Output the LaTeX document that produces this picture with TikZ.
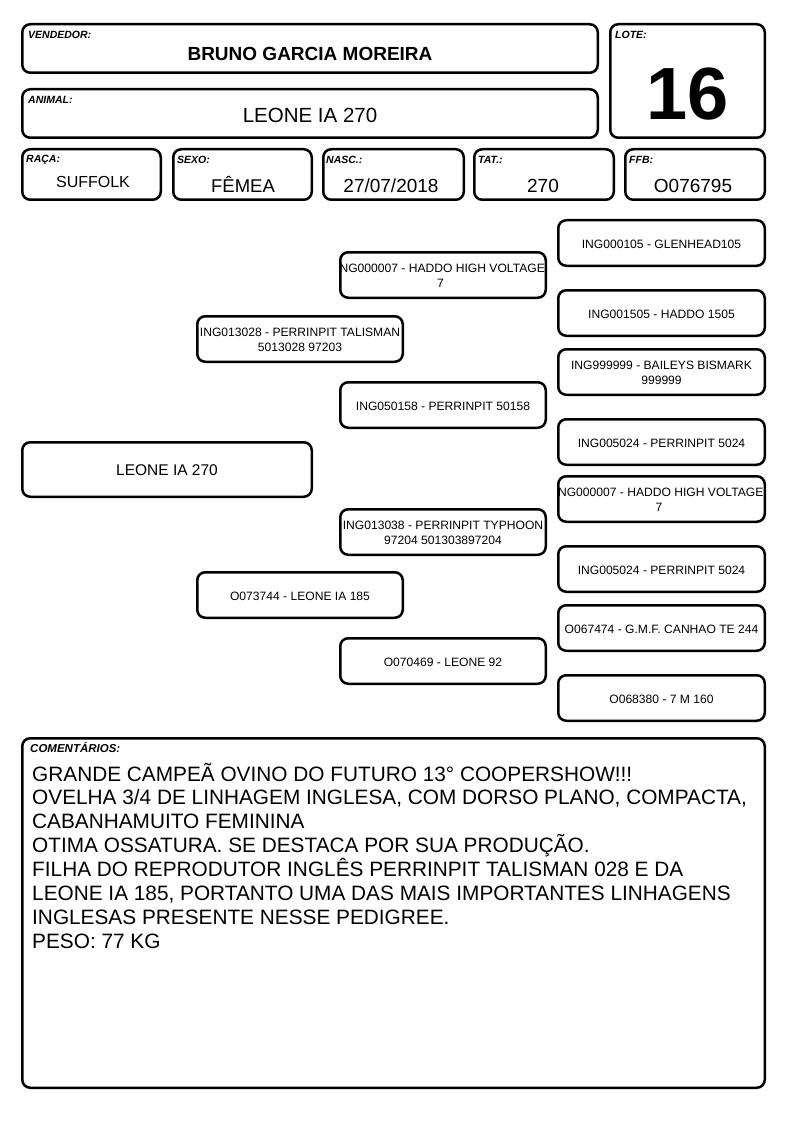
\documentclass[tikz,border=0pt]{standalone}
\usepackage{fontspec}
\setmainfont{Liberation Sans}
\newcommand\rbox[7][]{\node[box,minimum width={#5-#3-2.5}, minimum height={#6-#4-2.5},
  path picture={\node[ped,#1] at ([yshift=-1pt]path picture bounding box.center) {#7};}] (#2) at ({(#3+#5)/2},{(#4+#6)/2}) {};}
\begin{document}
\begin{tikzpicture}[x=1pt,y=-1pt,
  box/.style={draw, line width=2.5pt, rounded corners=8pt, inner sep=0pt},
  lbl/.style={anchor=base west, inner sep=0pt, font=\fontsize{10.5}{12}\selectfont\bfseries\itshape},
  val/.style={anchor=base, inner sep=0pt},
  ped/.style={align=center, inner sep=0pt, font=\fontsize{12.1}{15.5}\selectfont}]
\useasboundingbox[fill=white] (0,0) rectangle (794,1123);
% header boxes
\node[box, minimum width=575.5, minimum height=48.5] (vend) at (310,48.5) {};
\node[box, minimum width=575.5, minimum height=48.5] (anim) at (310,113.5) {};
\node[box, minimum width=154.5, minimum height=113.5] (lote) at (687.5,81) {};
\node[box, minimum width=138.5, minimum height=50.5] (raca) at (91.5,174.5) {};
\node[box, minimum width=138.5, minimum height=50.5] (sexo) at (242.5,174.5) {};
\node[box, minimum width=140.5, minimum height=50.5] (nasc) at (393.5,174.5) {};
\node[box, minimum width=139.5, minimum height=50.5] (tat) at (544,174.5) {};
\node[box, minimum width=139.5, minimum height=50.5] (ffb) at (695,174.5) {};
% labels
\node[lbl] (lvend) at (28,39) {VENDEDOR:};
\node[lbl] (lanim) at (28,104) {ANIMAL:};
\node[lbl] (llote) at (615,39) {LOTE:};
\node[lbl] (lraca) at (26,163) {RAÇA:};
\node[lbl] (lsexo) at (177,164) {SEXO:};
\node[lbl] (lnasc) at (326,164) {NASC.:};
\node[lbl] (ltat) at (478,164) {TAT.:};
\node[lbl] (lffb) at (629,164) {FFB:};
% values
\node[val, font=\fontsize{19}{22}\selectfont\bfseries] (vvend) at (310,61) {BRUNO GARCIA MOREIRA};
\node[val, font=\fontsize{20.5}{24}\selectfont] (vanim) at (310,123) {LEONE IA 270};
\node[val, font=\fontsize{74}{80}\selectfont\bfseries] (vlote) at (688,120) {16};
\node[val, font=\fontsize{16}{19}\selectfont] (vraca) at (93,188) {SUFFOLK};
\node[val, font=\fontsize{18.5}{22}\selectfont] (vsexo) at (243,193) {FÊMEA};
\node[val, font=\fontsize{19}{22}\selectfont] (vnasc) at (391,193) {27/07/2018};
\node[val, font=\fontsize{19}{22}\selectfont] (vtat) at (543,193) {270};
\node[val, font=\fontsize{19}{22}\selectfont] (vffb) at (693,193) {O076795};
% pedigree
\rbox[font=\fontsize{15.5}{18}\selectfont]{root}{21}{441}{313}{498}{LEONE IA 270}
\rbox{s}{196}{315}{404}{363}{ING013028 - PERRINPIT TALISMAN\\5013028 97203}
\rbox{d}{196}{571}{404}{619}{O073744 - LEONE IA 185}
\rbox[xshift=-2.5pt]{ss}{339}{251}{547}{299}{ING000007 - HADDO HIGH VOLTAGE\\7}
\rbox{sd}{339}{381}{547}{429}{ING050158 - PERRINPIT 50158}
\rbox{ds}{339}{508}{547}{556}{ING013038 - PERRINPIT TYPHOON\\97204 501303897204}
\rbox{dd}{339}{637}{547}{685}{O070469 - LEONE 92}
\rbox{sss}{557}{219}{766}{267}{ING000105 - GLENHEAD105}
\rbox{ssd}{557}{289}{766}{337}{ING001505 - HADDO 1505}
\rbox{sds}{557}{348}{766}{396}{ING999999 - BAILEYS BISMARK\\999999}
\rbox{sdd}{557}{418}{766}{466}{ING005024 - PERRINPIT 5024}
\rbox[xshift=-2.5pt]{dss}{557}{475}{766}{523}{ING000007 - HADDO HIGH VOLTAGE\\7}
\rbox{dsd}{557}{545}{766}{593}{ING005024 - PERRINPIT 5024}
\rbox{dds}{557}{604}{766}{652}{O067474 - G.M.F. CANHAO TE 244}
\rbox{ddd}{557}{674}{766}{722}{O068380 - 7 M 160}
% comments
\node[box, minimum width=742.5, minimum height=349.5] (com) at (393.5,913) {};
\node[lbl, font=\fontsize{11.5}{13}\selectfont\bfseries\itshape] (lcom) at (30,752) {COMENTÁRIOS:};
\foreach \t [count=\i from 0] in {GRANDE CAMPEÃ OVINO DO FUTURO 13° COOPERSHOW!!!,
  {OVELHA 3/4 DE LINHAGEM INGLESA, COM DORSO PLANO, COMPACTA,},
  CABANHAMUITO FEMININA,
  OTIMA OSSATURA. SE DESTACA POR SUA PRODUÇÃO.,
  FILHA DO REPRODUTOR INGLÊS PERRINPIT TALISMAN 028 E DA,
  {LEONE IA 185, PORTANTO UMA DAS MAIS IMPORTANTES LINHAGENS},
  INGLESAS PRESENTE NESSE PEDIGREE.,
  PESO: 77 KG}
  \node[anchor=base west, inner sep=0pt, font=\fontsize{20.8}{24}\selectfont] (c\i) at (32,781+23.9*\i) {\t};
\end{tikzpicture}
\end{document}
